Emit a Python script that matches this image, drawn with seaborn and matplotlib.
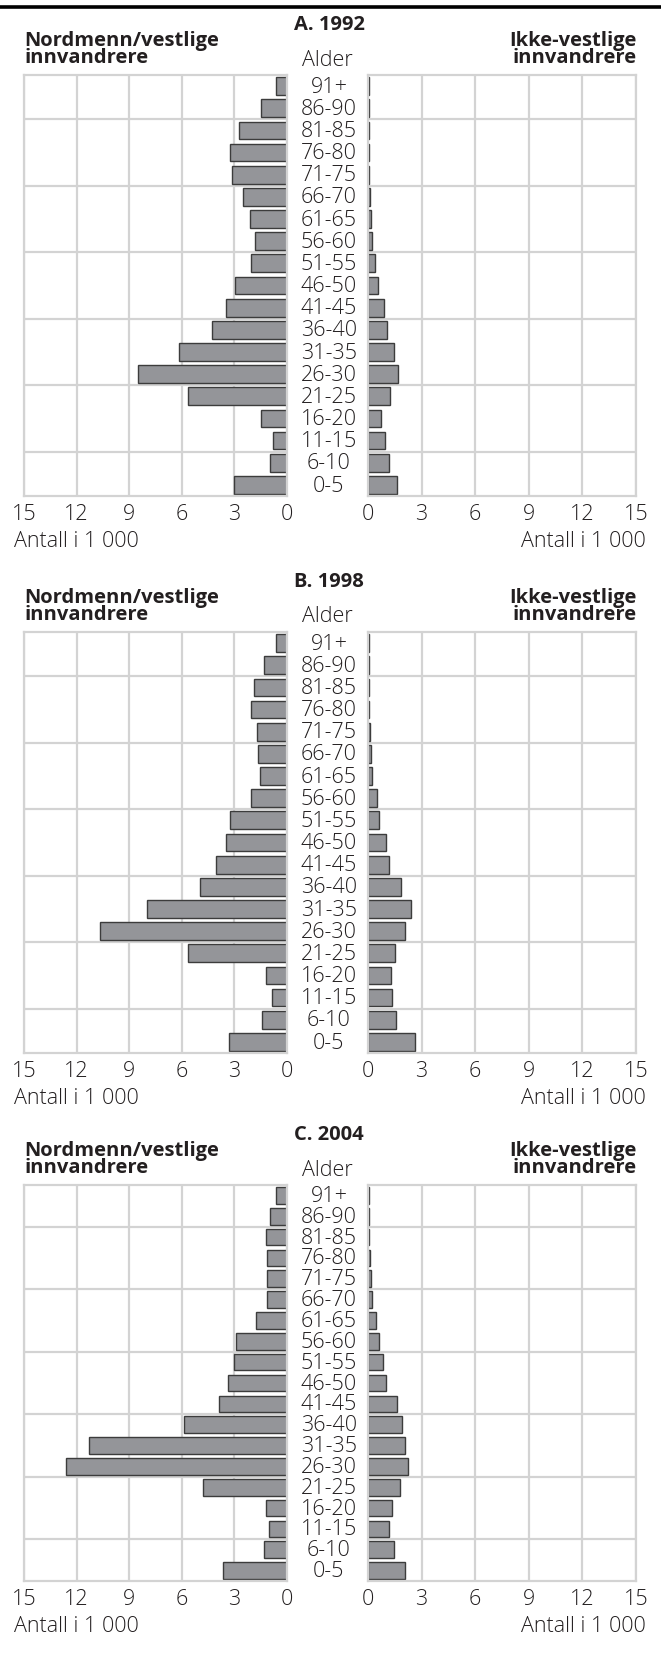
import numpy as np
import matplotlib
matplotlib.use("Agg")
import matplotlib.pyplot as plt
import matplotlib.transforms as mtransforms
from matplotlib.lines import Line2D
import seaborn as sns

# Age groups, top to bottom
ages = ["91+", "86-90", "81-85", "76-80", "71-75", "66-70", "61-65", "56-60",
        "51-55", "46-50", "41-45", "36-40", "31-35", "26-30", "21-25",
        "16-20", "11-15", "6-10", "0-5"]

# Antall i 1 000, Nordmenn/vestlige innvandrere
west_1992 = [0.61, 1.50, 2.73, 3.25, 3.11, 2.49, 2.09, 1.80, 2.07, 2.96,
             3.49, 4.27, 6.17, 8.51, 5.64, 1.48, 0.80, 0.99, 3.02]
west_1998 = [0.63, 1.31, 1.88, 2.07, 1.73, 1.65, 1.52, 2.07, 3.27, 3.46,
             4.03, 4.94, 7.96, 10.65, 5.64, 1.20, 0.87, 1.42, 3.32]
west_2004 = [0.65, 0.95, 1.20, 1.12, 1.14, 1.12, 1.77, 2.89, 3.02, 3.38,
             3.85, 5.89, 11.28, 12.59, 4.77, 1.20, 1.03, 1.29, 3.65]

# Antall i 1 000, Ikke-vestlige innvandrere
nonwest_1992 = [0.04, 0.04, 0.04, 0.05, 0.07, 0.13, 0.17, 0.20, 0.37, 0.54,
                0.88, 1.07, 1.44, 1.66, 1.22, 0.71, 0.94, 1.16, 1.63]
nonwest_1998 = [0.04, 0.04, 0.06, 0.07, 0.11, 0.17, 0.22, 0.49, 0.64, 1.01,
                1.18, 1.87, 2.41, 2.09, 1.53, 1.27, 1.33, 1.57, 2.62]
nonwest_2004 = [0.04, 0.04, 0.06, 0.09, 0.19, 0.24, 0.47, 0.64, 0.84, 1.03,
                1.64, 1.92, 2.09, 2.24, 1.81, 1.33, 1.16, 1.44, 2.09]

titles = ["A. 1992", "B. 1998", "C. 2004"]
x_ticks = [0, 3, 6, 9, 12, 15]

W, H = 661, 1663
TXT = "#231f20"
GRID = "#d3d3d3"
BAR = "#949599"
EDGE = "#3c3c3c"
FS = 15.5      # light text
FSB = 14.5     # bold headings

sns.set_theme(style="white")
plt.rcParams["font.family"] = ["Open Sans", "DejaVu Sans"]

fig = plt.figure(figsize=(W / 100, H / 100), dpi=100)


def fx(px):
    return px / W


def fy(py):
    return 1 - py / H


def box(x0, y0, x1, y1):
    return [fx(x0), fy(y1), fx(x1) - fx(x0), fy(y0) - fy(y1)]


# panel layouts in pixels: top, bottom of axes
panels = [
    dict(top=75, bottom=496, data=(west_1992, nonwest_1992)),
    dict(top=632, bottom=1053, data=(west_1998, nonwest_1998)),
    dict(top=1185, bottom=1581, data=(west_2004, nonwest_2004)),
]

fig.add_artist(Line2D([0, 1], [fy(7), fy(7)], color="black", lw=2.6,
                      transform=fig.transFigure))


def style_axes(ax, invert):
    ax.set_xlim(15, 0) if invert else ax.set_xlim(0, 15)
    ax.set_ylim(len(ages) - 0.5, -0.5)
    ax.set_xticks(x_ticks)
    ax.set_yticks(np.arange(1.5, len(ages) - 1, 3))
    ax.set_yticklabels([])
    ax.set_xlabel("")
    ax.set_ylabel("")
    ax.grid(True, color=GRID, lw=1.6)
    ax.set_axisbelow(True)
    for s in ax.spines.values():
        s.set_color(GRID)
        s.set_linewidth(1.6)
        s.set_visible(True)
    ax.tick_params(axis="x", length=0, pad=5.5, labelsize=FS, labelcolor=TXT)
    ax.tick_params(axis="y", length=0)
    for t in ax.get_xticklabels():
        t.set_fontweight("light")


for i, p in enumerate(panels):
    left_vals, right_vals = p["data"]
    axl = fig.add_axes(box(24, p["top"], 287, p["bottom"]))
    axr = fig.add_axes(box(368, p["top"], 636, p["bottom"]))
    sns.barplot(x=left_vals, y=ages, orient="h", ax=axl, color=BAR,
                edgecolor=EDGE, linewidth=1.0, width=0.8, saturation=1)
    sns.barplot(x=right_vals, y=ages, orient="h", ax=axr, color=BAR,
                edgecolor=EDGE, linewidth=1.0, width=0.8, saturation=1)
    style_axes(axl, True)
    style_axes(axr, False)

    # age labels between the two halves
    tr = mtransforms.blended_transform_factory(fig.transFigure, axl.transData)
    for k, a in enumerate(ages):
        axl.text(fx(329), k + 0.05, a, transform=tr, ha="center", va="center",
                 fontsize=FS, fontweight="light", color=TXT, clip_on=False)

    off = p["top"] - 75
    fig.text(fx(329), fy(30 + off), titles[i], ha="center", va="baseline",
             fontsize=FSB, fontweight="bold", color=TXT)
    fig.text(fx(24), fy(41 + off), "Nordmenn/vestlige", ha="left",
             va="center", fontsize=FSB, fontweight="bold", color=TXT)
    fig.text(fx(24), fy(58 + off), "innvandrere", ha="left", va="center",
             fontsize=FSB, fontweight="bold", color=TXT)
    fig.text(fx(637), fy(41 + off), "Ikke-vestlige", ha="right",
             va="center", fontsize=FSB, fontweight="bold", color=TXT)
    fig.text(fx(637), fy(58 + off), "innvandrere", ha="right", va="center",
             fontsize=FSB, fontweight="bold", color=TXT)
    fig.text(fx(327), fy(60 + off), "Alder", ha="center", va="center",
             fontsize=FS, fontweight="light", color=TXT)
    yb = p["bottom"]
    fig.text(fx(14), fy(yb + 46), "Antall i 1 000", ha="left", va="center",
             fontsize=FS, fontweight="light", color=TXT)
    fig.text(fx(646), fy(yb + 46), "Antall i 1 000", ha="right", va="center",
             fontsize=FS, fontweight="light", color=TXT)

fig.savefig("out.png", dpi=100, facecolor="white")
